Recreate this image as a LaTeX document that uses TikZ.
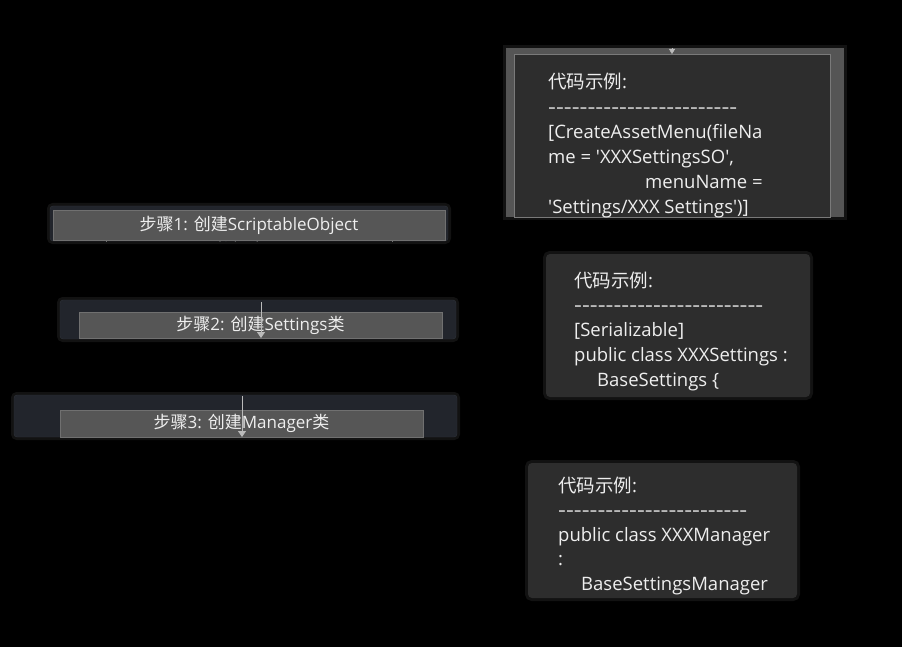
\documentclass[tikz,border=0pt]{standalone}
\usepackage{fontspec}
\setmainfont{Open Sans}[Ligatures=TeXOff]
\newfontfamily\cjk{Noto Sans CJK SC}[Ligatures=TeXOff]
\usetikzlibrary{arrows.meta}
\definecolor{stepouter}{HTML}{22252C}
\definecolor{stepedge}{HTML}{30333A}
\definecolor{stepinner}{HTML}{565656}
\definecolor{labeledge}{HTML}{707070}
\definecolor{codebg}{HTML}{2D2D2D}
\definecolor{codeframe}{HTML}{555555}
\definecolor{codeedge}{HTML}{7A7A7A}
\definecolor{arrowgray}{HTML}{BBBBBB}
\definecolor{txt}{HTML}{EEEEEE}
\tikzstyle{stepbox}=[rectangle,fill=stepouter,draw=stepedge,rounded corners=3pt,inner sep=0pt,preaction={draw=white,opacity=0.07,line width=6pt}]
\tikzstyle{steplabel}=[rectangle,fill=stepinner,draw=labeledge,inner sep=0pt,text=txt,font=\fontsize{17}{20}\selectfont]
\tikzstyle{codebox}=[rectangle,fill=codebg,rounded corners=4pt,inner sep=0pt,preaction={draw=white,opacity=0.07,line width=6pt}]
\tikzstyle{codeline}=[anchor=base west,inner sep=0pt,text=txt,font=\fontsize{18.5}{25}\selectfont]
\tikzstyle{edge}=[draw,line width=1pt,arrowgray,-{Triangle[width=8pt,length=6pt]}]

\begin{document}
\begin{tikzpicture}[x=1pt,y=-1pt]

    \fill[black] (0,0) rectangle (902,647);
    \useasboundingbox (0,0) rectangle (902,647);

    % step boxes
    \foreach \x/\y/\w/\h/\name in {249/223.5/398/35/step1, 258/319.5/396/39/step2, 235.5/416/443/42/step3}
        \node[stepbox, minimum width=\w, minimum height=\h] (\name) at (\x,\y) {};

    \begin{scope}
        \clip (50,206) rectangle (448,241);
        \node[rectangle, draw=labeledge, minimum width=286, minimum height=24, inner sep=0pt, text=txt, font=\cjk\fontsize{17}{20}\selectfont] (store) at (249,250) {数据容器};
    \end{scope}

    \node[steplabel, minimum width=392, minimum height=30] (label1) at (249,225) {{\cjk 步骤}1: {\cjk 创建}ScriptableObject};
    \node[steplabel, minimum width=363, minimum height=26.5] (label2) at (260.5,325.2) {{\cjk 步骤}2: {\cjk 创建}Settings{\cjk 类}};
    \node[steplabel, minimum width=363, minimum height=27.5] (label3) at (241.5,423.7) {{\cjk 步骤}3: {\cjk 创建}Manager{\cjk 类}};

    \coordinate (in2) at (261,302);
    \coordinate (out2) at (261,338);
    \coordinate (in3) at (242,396);
    \coordinate (out3) at (242,437);
    \path[edge] (in2) -- (out2);
    \path[edge] (in3) -- (out3);

    % code boxes
    \node[rectangle, fill=codeframe, inner sep=0pt, minimum width=338, minimum height=169, preaction={draw=white,opacity=0.07,line width=6pt}] (frameA) at (675,132.5) {};
    \node[rectangle, fill=codebg, draw=codeedge, inner sep=0pt, minimum width=316, minimum height=163] (codeA) at (672,135.5) {};
    \node[codebox, minimum width=264, minimum height=143] (codeB) at (678,325.5) {};
    \node[codebox, minimum width=269, minimum height=135] (codeC) at (662.5,530.5) {};

    \coordinate (inA) at (672,48);
    \coordinate (outA) at (672,54);
    \path[edge, line width=0.4pt, -{Triangle[width=6pt,length=5pt]}] (inA) -- (outA);

    \foreach \i/\txt in {0/{{\cjk 代码示例}:}, 1/{\resizebox{189pt}{\height}{------------------------}}, 2/{[CreateAssetMenu(fileNa}, 3/{me = 'XXXSettingsSO',}, 4/{\hspace*{97pt}menuName =}, 5/{'Settings/XXX Settings')]}}
        \node[codeline] (a\i) at (548,89+25*\i) {\txt};

    \foreach \i/\txt in {0/{{\cjk 代码示例}:}, 1/{\resizebox{189pt}{\height}{------------------------}}, 2/{[Serializable]}, 3/{public class XXXSettings :}, 4/{\hspace*{23pt}BaseSettings \{}}
        \node[codeline] (b\i) at (574,287+24.75*\i) {\txt};

    \foreach \i/\txt in {0/{{\cjk 代码示例}:}, 1/{\resizebox{189pt}{\height}{------------------------}}, 2/{public class XXXManager}, 3/{:}, 4/{\hspace*{23pt}BaseSettingsManager}}
        \node[codeline] (c\i) at (558,492+24.5*\i) {\txt};

\end{tikzpicture}
\end{document}
